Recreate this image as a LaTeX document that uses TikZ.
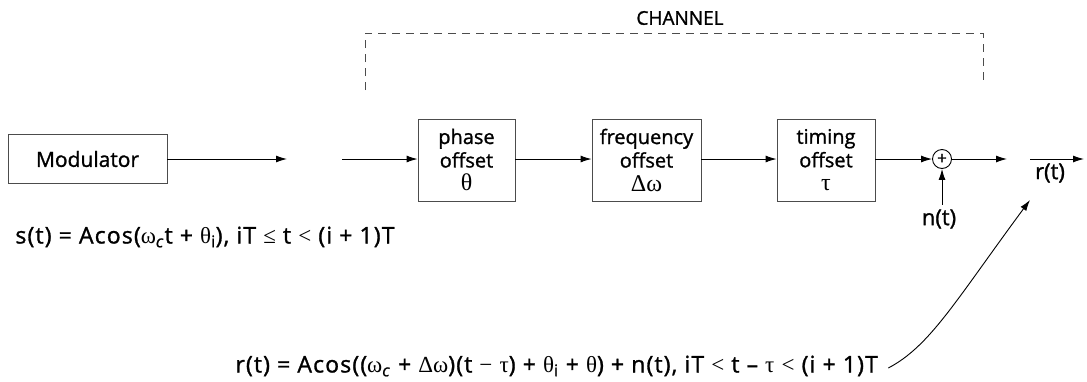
\documentclass[tikz,border=0pt]{standalone}
\usepackage{fontspec}
\setmainfont{Open Sans}[RawFeature={embolden=1.2}]
\newfontfamily\grk{Liberation Serif}
\newfontfamily\eqf{Open Sans}[RawFeature={embolden=1.2}, LetterSpace=5]
\usetikzlibrary{arrows.meta}

\begin{document}
\begin{tikzpicture}[
    x=1pt, y=-1pt, ->, >={Latex[length=11pt, width=7pt]}, line width=0.9pt,
    font=\fontsize{23}{26}\selectfont,
    block/.style={draw=black!70, -, rectangle, align=center, minimum height=82pt, inner sep=0pt,
        font=\fontsize{20}{23.5}\selectfont},
    eqn/.style={inner sep=0pt, anchor=west, font=\eqf\fontsize{23}{26}\selectfont}
]
\useasboundingbox (0,0) rectangle (1087,381);
% Blocks
\node (mod) [block, minimum width=159pt, minimum height=49pt, font=\fontsize{21}{24}\selectfont] at (87.5,159) {Modulator};
\node (phase) [block, minimum width=97pt] at (466.5,160) {phase\\offset\\{\grk\fontsize{24}{23.5}\selectfont θ}};
\node (freq) [block, minimum width=109pt] at (646.5,160) {frequency\\offset\\{\grk\fontsize{24}{23.5}\selectfont Δω}};
\node (timing) [block, minimum width=98pt] at (826,160) {timing\\offset\\{\grk\fontsize{24}{23.5}\selectfont τ}};
\node (sum) [draw, -, circle, minimum size=19pt, inner sep=0pt, font=\fontsize{17}{17}\selectfont] at (942,159) {+};
% Labels
\node (chan) [font=\fontsize{19}{21}\selectfont] at (680,18) {CHANNEL};
\node (rt) [font=\fontsize{22}{24}\selectfont] at (1050,173) {r(t)};
\node (nt) [inner sep=4pt, font=\fontsize{22}{24}\selectfont] at (939,219) {n(t)};
\node (seq) [eqn] at (15,237) {s(t) = Acos({\grk ω}\textsubscript{\textit{c}}t + {\grk θ}\textsubscript{i}), iT {\grk ≤} t {\grk <} (i + 1)T};
\node (req) [eqn] at (235,366) {r(t) = Acos(({\grk ω}\textsubscript{\textit{c}} + {\grk Δω})(t {\grk −} {\grk τ}) + {\grk θ}\textsubscript{i} + {\grk θ}) + n(t), iT {\grk <} t – {\grk τ} {\grk <} (i + 1)T};
% Channel bracket
\coordinate (chl) at (365,90);
\coordinate (chr) at (983,85);
\coordinate (gapL) at (287,159);
\coordinate (gapR) at (342,159);
\coordinate (outA) at (1007,159);
\coordinate (outB) at (1030,159);
\coordinate (outC) at (1084,159);
\coordinate (rtin) at (1030,200);
% Draw arrows
\draw[-, black!70, dash pattern=on 8pt off 6pt] (chl) |- (chr |- 0,33) -- (chr);
\draw (mod) -- (gapL);
\draw (gapR) -- (phase.west |- gapR);
\draw (phase.east |- gapR) -- (freq.west |- gapR);
\draw (freq.east |- gapR) -- (timing.west |- gapR);
\draw (timing.east |- gapR) -- (sum);
\draw (sum) -- (outA);
\draw (outB) -- (outC);
\draw (nt.north -| sum) -- (sum);
\draw ([xshift=10pt, yshift=-2pt]req.east) .. controls +(42,-22) and +(-74,100) .. (rtin);
\end{tikzpicture}
\end{document}
